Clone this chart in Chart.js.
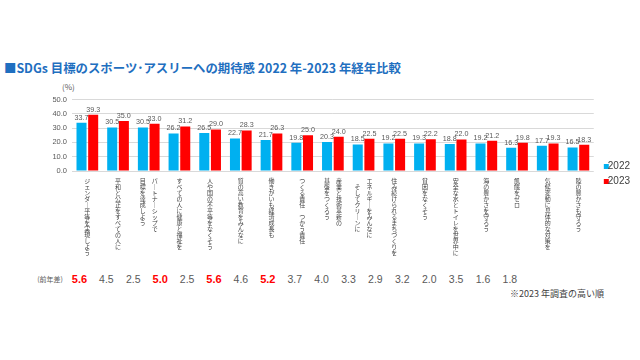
<!DOCTYPE html>
<html lang="ja">
<head>
<meta charset="utf-8">
<script src="https://cdn.jsdelivr.net/npm/chart.js@4.4.1/dist/chart.umd.min.js"></script>
<style>
  html, body { margin: 0; padding: 0; background: #fff; }
  #wrap { position: relative; width: 640px; height: 360px; overflow: hidden; font-family: "Noto Sans CJK JP", "Noto Sans", sans-serif; }
  #title { position: absolute; left: 4px; top: 60px; font-size: 12.4px; font-weight: bold; color: #1f6fc0; white-space: nowrap; line-height: 16px; }
  #unit { position: absolute; left: 62px; top: 82px; font-size: 8px; color: #595959; line-height: 10px; }
  #c { position: absolute; left: 0; top: 90px; }
  .abs { position: absolute; transform: translate(-50%, -50%); white-space: nowrap; line-height: 1; }
  #note { position: absolute; left: 510px; top: 288px; font-size: 9px; color: #404040; white-space: nowrap; line-height: 12px; }
</style>
</head>
<body>
<div id="wrap">
  <div id="title">■SDGs 目標のスポーツ･アスリーへの期待感 2022 年-2023 年経年比較</div>
  <div id="unit">(%)</div>
  <canvas id="c" width="640" height="168"></canvas>
  <div id="diffrow"></div>
  <div id="note">※2023 年調査の高い順</div>
</div>
<script>
// ---- data ----
const categories = [
  ["ジェンダー平等を実現しよう"],
  ["平和と公正をすべての人に"],
  ["パートナーシップで", "目標を達成しよう"],
  ["すべての人に健康と福祉を"],
  ["人や国の不平等をなくそう"],
  ["質の高い教育をみんなに"],
  ["働きがいも経済成長も"],
  ["つくる責任　つかう責任"],
  ["産業と技術革新の", "基盤をつくろう"],
  ["エネルギーをみんなに", "そしてクリーンに"],
  ["住み続けられるまちづくりを"],
  ["貧困をなくそう"],
  ["安全な水とトイレを世界中に"],
  ["海の豊かさを守ろう"],
  ["飢餓をゼロ"],
  ["気候変動に具体的な対策を"],
  ["陸の豊かさも守ろう"]
];
const values2022 = [33.7, 30.5, 30.5, 26.2, 26.5, 22.7, 21.7, 19.8, 20.3, 18.5, 19.2, 19.3, 18.8, 19.2, 16.3, 17.7, 16.5];
const values2023 = [39.3, 35.0, 33.0, 31.2, 29.0, 28.3, 26.3, 25.0, 24.0, 22.5, 22.5, 22.2, 22.0, 21.2, 19.8, 19.3, 18.3];
const diffLabel = "(前年差)";
const diffs = [5.6, 4.5, 2.5, 5.0, 2.5, 5.6, 4.6, 5.2, 3.7, 4.0, 3.3, 2.9, 3.2, 2.0, 3.5, 1.6, 1.8];
const yTicks = [0, 10, 20, 30, 40, 50];
const seriesNames = ["2022", "2023"];
const seriesColors = ["#00b0f0", "#ff0000"];

// ---- vertical (tategaki) label builder ----
function vchar(ch) { return ch === "ー" ? "｜" : ch; }
function buildVertical(cols) {
  const a = Array.from(cols[0]).map(vchar);
  if (cols.length === 1) return a;
  const b = Array.from(cols[1]).map(vchar);
  const off = Math.floor((a.length - b.length) / 2);
  const n = Math.max(a.length, b.length + off);
  const lines = [];
  for (let i = 0; i < n; i++) {
    const r = a[i] || "　";
    const l = (i - off >= 0 && b[i - off]) ? b[i - off] : "　";
    lines.push(l + "　" + r);
  }
  return lines;
}
const tickLabels = categories.map(buildVertical);

// ---- legend icons (small squares) ----
function makeIcon(color) {
  const cv = document.createElement("canvas");
  cv.width = 18; cv.height = 5;
  const g = cv.getContext("2d");
  g.fillStyle = color;
  g.fillRect(12, 0, 5, 5);
  return cv;
}
const legendIcons = seriesColors.map(makeIcon);

// ---- diff row (HTML text) ----
const row = document.getElementById("diffrow");
const lab = document.createElement("div");
lab.className = "abs";
lab.textContent = diffLabel;
Object.assign(lab.style, { left: "50px", top: "279px", fontSize: "7px", color: "#595959" });
row.appendChild(lab);
diffs.forEach((d, i) => {
  const el = document.createElement("div");
  el.className = "abs";
  el.textContent = d.toFixed(1);
  const hi = d >= 5.0;
  Object.assign(el.style, {
    left: (79.5 + i * 26.9) + "px", top: "279px",
    fontSize: hi ? "11px" : "10.5px",
    fontWeight: hi ? "bold" : "normal",
    color: hi ? "#ff0000" : "#595959",
    fontFamily: '"Liberation Sans", Arial, sans-serif'
  });
  row.appendChild(el);
});

// ---- value label plugin ----
const valueLabels = {
  id: "valueLabels",
  afterDatasetsDraw(chart) {
    const ctx = chart.ctx;
    ctx.save();
    ctx.font = '7.2px "Liberation Sans", Arial, sans-serif';
    ctx.fillStyle = "#595959";
    ctx.textAlign = "center";
    ctx.textBaseline = "bottom";
    chart.data.datasets.forEach((ds, di) => {
      chart.getDatasetMeta(di).data.forEach((bar, i) => {
        ctx.fillText(ds.data[i].toFixed(1), bar.x, bar.y - 1.5);
      });
    });
    ctx.restore();
  }
};

new Chart(document.getElementById("c"), {
  type: "bar",
  data: {
    labels: tickLabels,
    datasets: [
      { label: seriesNames[0], data: values2022, backgroundColor: seriesColors[0], categoryPercentage: 0.76, barPercentage: 0.86 },
      { label: seriesNames[1], data: values2023, backgroundColor: seriesColors[1], categoryPercentage: 0.76, barPercentage: 0.86 }
    ]
  },
  options: {
    responsive: false,
    animation: false,
    layout: { padding: { top: 9, left: 0, right: 0, bottom: 0 } },
    plugins: {
      legend: {
        position: "right",
        align: "start",
        fullSize: true,
        title: { display: true, text: " ", font: { size: 10 }, padding: { top: 0, bottom: 45 } },
        labels: {
          usePointStyle: true,
          pointStyleWidth: 4,
          boxHeight: 10,
          padding: 5,
          color: "#404040",
          font: { size: 10, family: '"Liberation Sans", Arial, sans-serif' },
          generateLabels(chart) {
            const items = Chart.defaults.plugins.legend.labels.generateLabels(chart);
            items.forEach((it, i) => { it.pointStyle = legendIcons[i]; });
            return items;
          }
        }
      },
      tooltip: { enabled: false }
    },
    scales: {
      x: {
        grid: { display: false, drawTicks: false },
        border: { display: false },
        afterFit(s) { s.height = 87; },
        ticks: {
          autoSkip: false, maxRotation: 0, minRotation: 0, padding: 7,
          color: "#404040",
          font: { size: 6, family: '"Noto Sans CJK JP", sans-serif', lineHeight: 1.0 }
        }
      },
      y: {
        min: 0, max: 50,
        afterFit(s) { s.width = 72; },
        afterBuildTicks(s) { s.ticks = yTicks.map(v => ({ value: v })); },
        grid: { color: "#d9d9d9", drawTicks: false },
        border: { display: false },
        ticks: {
          padding: 5,
          color: "#595959",
          font: { size: 7.5, family: '"Liberation Sans", Arial, sans-serif' },
          callback: v => Number(v).toFixed(1)
        }
      }
    }
  },
  plugins: [valueLabels]
});
</script>
</body>
</html>
